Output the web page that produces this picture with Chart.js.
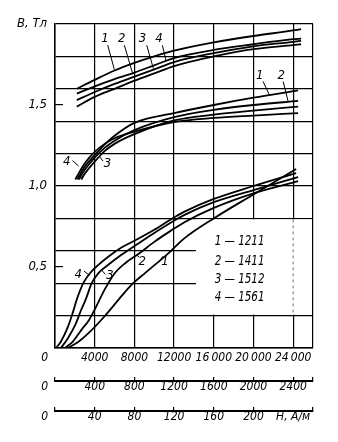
<!DOCTYPE html>
<html><head><meta charset="utf-8">
<script src="https://cdn.jsdelivr.net/npm/chart.js@4/dist/chart.umd.min.js"></script>
<style>html,body{margin:0;padding:0;background:#fff;}#wrap{width:338px;height:442px;}</style>
</head><body><div id="wrap"><canvas id="c" width="338" height="442"></canvas></div>
<script>
// ---- data ----
const seriesNames = ['1211', '1411', '1512', '1561'];

// upper group: read on top H scale (0–26000 A/m)
const upH  = [2200, 4000, 6000, 8000, 10000, 12000, 16000, 20000, 24000, 24800];
const upB1 = [1.60, 1.655, 1.713, 1.76, 1.80, 1.835, 1.886, 1.926, 1.96, 1.968];
const upB2 = [1.57, 1.615, 1.66, 1.70, 1.745, 1.79, 1.84, 1.875, 1.906, 1.91];
const upB3 = [1.53, 1.58, 1.63, 1.675, 1.72, 1.765, 1.82, 1.862, 1.89, 1.896];
const upB4 = [1.49, 1.55, 1.60, 1.65, 1.695, 1.74, 1.80, 1.845, 1.87, 1.875];

// middle group: read on middle H scale (0–2600 A/m)
const midH1 = [225, 300, 400, 500, 600, 800, 1200, 1600, 2000, 2450];
const midB1 = [1.04, 1.12, 1.19, 1.255, 1.31, 1.39, 1.45, 1.50, 1.545, 1.59];
const midH2 = [240, 300, 400, 500, 600, 800, 1200, 1600, 2000, 2450];
const midB2 = [1.04, 1.10, 1.175, 1.235, 1.28, 1.345, 1.425, 1.47, 1.50, 1.525];
const midH3 = [265, 300, 400, 500, 600, 800, 1200, 1600, 2000, 2450];
const midB3 = [1.04, 1.075, 1.15, 1.215, 1.26, 1.32, 1.405, 1.44, 1.465, 1.49];
const midH4 = [205, 250, 300, 400, 500, 600, 800, 1200, 1600, 2000, 2450];
const midB4 = [1.04, 1.09, 1.14, 1.21, 1.26, 1.295, 1.335, 1.395, 1.42, 1.435, 1.45];

// lower group: read on bottom H scale (0–260 A/m)
const lowH1 = [13, 24, 34, 50, 67, 77, 91, 100, 117, 130, 160, 200, 243];
const lowB1 = [0, 0.04, 0.093, 0.196, 0.32, 0.39, 0.464, 0.51, 0.60, 0.675, 0.80, 0.948, 1.105];
const lowH2 = [10, 18, 27, 34, 40, 50, 60, 71, 84, 100, 117, 130, 160, 200, 245];
const lowB2 = [0, 0.04, 0.115, 0.17, 0.237, 0.36, 0.46, 0.525, 0.58, 0.655, 0.725, 0.775, 0.865, 0.955, 1.03];
const lowH3 = [6, 13, 21, 26, 31, 37, 44, 54, 67, 84, 100, 117, 130, 160, 200, 245];
const lowB3 = [0, 0.06, 0.15, 0.23, 0.30, 0.40, 0.464, 0.515, 0.575, 0.645, 0.71, 0.775, 0.82, 0.90, 0.975, 1.055];
const lowH4 = [1, 6, 13, 18, 22, 28.5, 35, 44, 54, 67, 81, 100, 117, 130, 160, 200, 243];
const lowB4 = [0, 0.04, 0.13, 0.22, 0.30, 0.40, 0.46, 0.515, 0.565, 0.62, 0.665, 0.73, 0.795, 0.84, 0.92, 1.00, 1.08];

// tick values / labels
const xTicksA = [0, 4000, 8000, 12000, 16000, 20000, 24000, 26000];
const xLabelsA = ['0', '4000', '8000', '12000', '16\u2009000', '20\u2009000', '24\u2009000', ''];
const xTicksB = [0, 400, 800, 1200, 1600, 2000, 2400, 2600];
const xLabelsB = ['0', '400', '800', '1200', '1600', '2000', '2400', ''];
const xTicksC = [0, 40, 80, 120, 160, 200, 240, 260];
const xLabelsC = ['0', '40', '80', '120', '160', '200', 'H, A/м', ''];
const yTicks  = [0, 0.2, 0.4, 0.5, 0.6, 0.8, 1.0, 1.2, 1.4, 1.5, 1.6, 1.8, 2.0];
const yLabels = ['', '', '', '0,5', '', '', '1,0', '', '', '1,5', '', '', 'B, Тл'];
const yMarkOnly = [0.5, 1.5];

// curve number labels (annotation text; positions in axis units)
const curveNotes = [
  {axis: 'x',  t: '1', at: [5042, 1.91],  from: [5311, 1.869], to: [5983, 1.719]},
  {axis: 'x',  t: '2', at: [6722, 1.91],  from: [6991, 1.869], to: [7798, 1.699]},
  {axis: 'x',  t: '3', at: [8807, 1.91],  from: [9244, 1.869], to: [9913, 1.725]},
  {axis: 'x',  t: '4', at: [10487, 1.91], from: [10820, 1.869], to: [11200, 1.77]},
  {axis: 'x2', t: '1', at: [2064, 1.684], from: [2097, 1.645], to: [2158, 1.565]},
  {axis: 'x2', t: '2', at: [2279, 1.684], from: [2299, 1.645], to: [2350, 1.52]},
  {axis: 'x2', t: '4', at: [118, 1.148],  from: [176, 1.157], to: [237, 1.123]},
  {axis: 'x2', t: '3', at: [529, 1.139],  from: [484, 1.154], to: [449, 1.182]},
  {axis: 'x3', t: '4', at: [23.5, 0.451], from: [29.2, 0.475], to: [34.8, 0.448]},
  {axis: 'x3', t: '3', at: [55.5, 0.444], from: [50.9, 0.454], to: [46.9, 0.481]},
  {axis: 'x3', t: '2', at: [88, 0.536],   from: [85.2, 0.559], to: [82.2, 0.574]},
  {axis: 'x3', t: '1', at: [110.9, 0.536],from: [108.4, 0.565], to: [105.9, 0.537]}
];
const legendRows = [0.66, 0.537, 0.423, 0.31];   // B-positions of key rows
const legendLeftH = 16100;
const legendBox = {x0: 14200, y0: 0.2, y1: 0.8};

// ---- build ----
const pts = (h, b) => h.map((v, i) => ({x: v, y: b[i]}));
const groups = [
  {axis: 'x',  sets: [[upH, upB1], [upH, upB2], [upH, upB3], [upH, upB4]]},
  {axis: 'x2', sets: [[midH1, midB1], [midH2, midB2], [midH3, midB3], [midH4, midB4]]},
  {axis: 'x3', sets: [[lowH1, lowB1], [lowH2, lowB2], [lowH3, lowB3], [lowH4, lowB4]]}
];
const datasets = [];
groups.forEach(g => g.sets.forEach((s, i) => datasets.push({
  label: seriesNames[i], data: pts(s[0], s[1]), xAxisID: g.axis, yAxisID: 'y',
  borderColor: '#000', borderWidth: 1.8, pointRadius: 0, fill: false,
  cubicInterpolationMode: 'monotone'
})));

const FS = '"DejaVu Sans Condensed", "DejaVu Sans", sans-serif';
const tickFont = {family: FS, size: 12, style: 'italic'};
const NOTE_FONT = 'italic 13px "DejaVu Sans Condensed", "DejaVu Sans", sans-serif';
const KEY_FONT = 'italic 14px "DejaVu Sans Condensed", "DejaVu Sans", sans-serif';
const FIG = '\u2007';

function xAxis(vals, labels, min, max, weight, opts) {
  return Object.assign({
    type: 'linear', position: 'bottom', min: min, max: max, weight: weight,
    afterBuildTicks: s => { s.ticks = vals.map(v => ({value: v})); },
    ticks: {autoSkip: false, maxRotation: 0, minRotation: 0, color: '#000', font: tickFont,
      callback: (v, i) => i === 0 ? labels[0] + FIG + FIG + FIG : labels[i]}
  }, opts);
}

const blankPlugin = {
  id: 'blank',
  beforeDatasetsDraw(chart) {
    const {ctx, scales: {x, y}} = chart;
    const l = x.getPixelForValue(legendBox.x0), r = x.getPixelForValue(x.max) - 1;
    const t = y.getPixelForValue(legendBox.y1) + 1, b = y.getPixelForValue(legendBox.y0) - 1;
    ctx.save();
    ctx.fillStyle = '#fff';
    ctx.fillRect(l, t, r - l, b - t);
    const px = x.getPixelForValue(24000);
    ctx.strokeStyle = '#777'; ctx.lineWidth = 1; ctx.setLineDash([3, 3]);
    ctx.beginPath(); ctx.moveTo(px, t); ctx.lineTo(px, b); ctx.stroke();
    ctx.restore();
  }
};

const notePlugin = {
  id: 'notes',
  afterDatasetsDraw(chart) {
    const {ctx, scales} = chart; const y = scales.y;
    ctx.save();
    ctx.fillStyle = '#000'; ctx.strokeStyle = '#000'; ctx.lineWidth = 1;
    ctx.font = NOTE_FONT; ctx.textAlign = 'center'; ctx.textBaseline = 'middle';
    curveNotes.forEach(n => {
      const xs = scales[n.axis];
      ctx.fillText(n.t, xs.getPixelForValue(n.at[0]), y.getPixelForValue(n.at[1]));
      ctx.beginPath();
      ctx.moveTo(xs.getPixelForValue(n.from[0]), y.getPixelForValue(n.from[1]));
      ctx.lineTo(xs.getPixelForValue(n.to[0]), y.getPixelForValue(n.to[1]));
      ctx.stroke();
    });
    ctx.font = KEY_FONT; ctx.textAlign = 'left';
    const lx = scales.x.getPixelForValue(legendLeftH);
    seriesNames.forEach((nm, i) => {
      ctx.save();
      ctx.translate(lx, y.getPixelForValue(legendRows[i]));
      ctx.scale(0.82, 1);
      ctx.fillText((i + 1) + ' \u2014 ' + nm, 0, 0);
      ctx.restore();
    });
    ctx.restore();
  }
};

new Chart(document.getElementById('c'), {
  type: 'line',
  data: {datasets: datasets},
  options: {
    responsive: false, animation: false, devicePixelRatio: 1,
    layout: {padding: {left: 0, right: 25, top: 24, bottom: 0}},
    plugins: {legend: {display: false}, tooltip: {enabled: false}},
    scales: {
      x: xAxis(xTicksA, xLabelsA, 0, 26000, 0, {
        grid: {color: '#000', lineWidth: 1.2, drawTicks: false},
        border: {display: true, color: '#000', width: 1.5},
        afterFit: s => { s.height = 33; }
      }),
      x2: xAxis(xTicksB, xLabelsB, 0, 2600, 1, {
        grid: {drawOnChartArea: false, drawTicks: true, tickLength: -4, color: '#000', lineWidth: 1.2},
        border: {display: true, color: '#000', width: 2},
        afterFit: s => { s.height = 30; }
      }),
      x3: xAxis(xTicksC, xLabelsC, 0, 260, 2, {
        grid: {drawOnChartArea: false, drawTicks: true, tickLength: -4, lineWidth: 1.2,
          color: '#000',
          tickColor: c => (c.tick && c.tick.value === 240) ? 'rgba(0,0,0,0)' : '#000'},
        border: {display: true, color: '#000', width: 2},
        afterFit: s => { s.height = 31; }
      }),
      y: {
        type: 'linear', position: 'left', min: 0, max: 2,
        afterBuildTicks: s => { s.ticks = yTicks.map(v => ({value: v})); },
        afterFit: s => { s.width = 55; },
        grid: {lineWidth: 1.2, tickLength: -8,
          color: c => (c.tick && yMarkOnly.includes(c.tick.value)) ? 'rgba(0,0,0,0)' : '#000',
          tickColor: c => (c.tick && yMarkOnly.includes(c.tick.value)) ? '#000' : 'rgba(0,0,0,0)'},
        border: {display: true, color: '#000', width: 1.5},
        ticks: {autoSkip: false, padding: 16, color: '#000', font: {family: FS, size: 13, style: 'italic'},
          callback: (v, i) => yLabels[i]}
      }
    }
  },
  plugins: [blankPlugin, notePlugin]
});
</script>
</body></html>
